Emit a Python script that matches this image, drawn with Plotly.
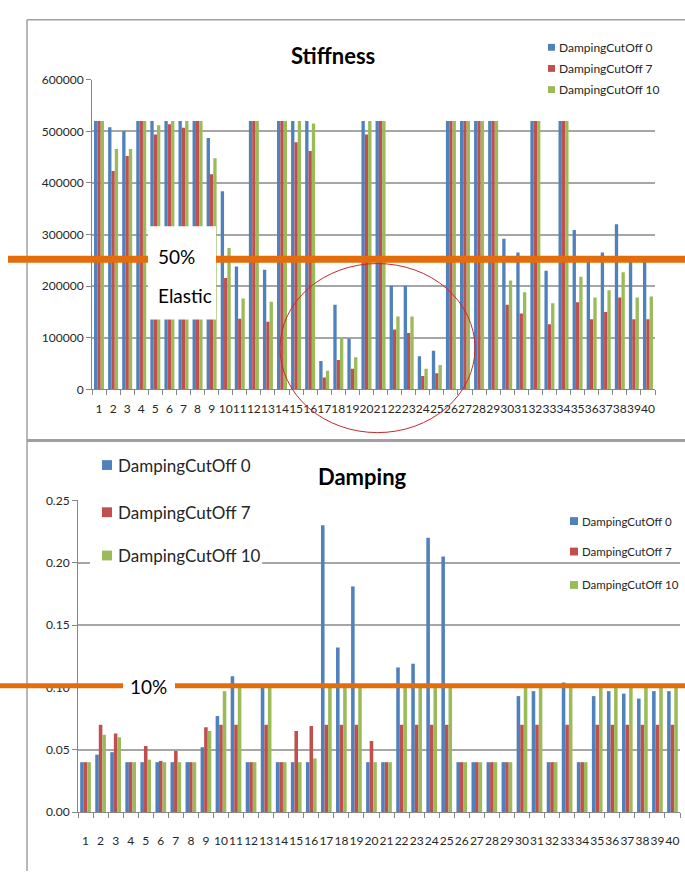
import plotly.graph_objects as go

W, H = 685, 878

categories = [str(i) for i in range(1, 41)]
series_names = ["DampingCutOff 0", "DampingCutOff 7", "DampingCutOff 10"]
colors = ["#4F81BD", "#C0504D", "#9BBB59"]

stiff_c0 = [520000, 508000, 500000, 520000, 520000, 520000, 520000, 520000, 487000, 384000,
            238000, 520000, 232000, 520000, 520000, 520000, 55000, 164000, 98000, 520000,
            520000, 201000, 201000, 64000, 75000, 520000, 520000, 520000, 520000, 292000,
            265000, 520000, 230000, 520000, 309000, 250000, 265000, 320000, 248000, 248000]
stiff_c7 = [520000, 423000, 452000, 520000, 494000, 514000, 507000, 520000, 417000, 216000,
            137000, 520000, 131000, 520000, 479000, 462000, 23000, 57000, 40000, 494000,
            520000, 116000, 109000, 26000, 31000, 520000, 520000, 520000, 520000, 164000,
            147000, 520000, 126000, 520000, 169000, 136000, 150000, 178000, 136000, 136000]
stiff_c10 = [520000, 466000, 466000, 520000, 512000, 520000, 520000, 520000, 448000, 274000,
             176000, 520000, 170000, 520000, 520000, 515000, 36000, 99000, 62000, 520000,
             520000, 141000, 141000, 40000, 47000, 520000, 520000, 520000, 520000, 211000,
             188000, 520000, 167000, 520000, 218000, 178000, 192000, 227000, 178000, 180000]

damp_c0 = [0.040, 0.046, 0.048, 0.040, 0.040, 0.040, 0.040, 0.040, 0.052, 0.077,
           0.109, 0.040, 0.100, 0.040, 0.040, 0.040, 0.230, 0.132, 0.181, 0.040,
           0.040, 0.116, 0.119, 0.220, 0.205, 0.040, 0.040, 0.040, 0.040, 0.093,
           0.097, 0.040, 0.104, 0.040, 0.093, 0.097, 0.095, 0.091, 0.097, 0.097]
damp_c7 = [0.040, 0.070, 0.063, 0.040, 0.053, 0.041, 0.049, 0.040, 0.068, 0.070,
           0.070, 0.040, 0.070, 0.040, 0.065, 0.069, 0.070, 0.070, 0.070, 0.057,
           0.040, 0.070, 0.070, 0.070, 0.070, 0.040, 0.040, 0.040, 0.040, 0.070,
           0.070, 0.040, 0.070, 0.040, 0.070, 0.070, 0.070, 0.070, 0.070, 0.070]
damp_c10 = [0.040, 0.062, 0.060, 0.040, 0.042, 0.040, 0.040, 0.040, 0.065, 0.097,
            0.100, 0.040, 0.100, 0.040, 0.040, 0.043, 0.100, 0.100, 0.100, 0.040,
            0.040, 0.100, 0.100, 0.100, 0.100, 0.040, 0.040, 0.040, 0.040, 0.100,
            0.100, 0.040, 0.100, 0.040, 0.100, 0.100, 0.100, 0.100, 0.100, 0.100]

stiff_ticks = [0, 100000, 200000, 300000, 400000, 500000, 600000]
damp_ticks = [0.0, 0.05, 0.10, 0.15, 0.20, 0.25]


def X(px):
    return px / W


def Y(py):
    return 1 - py / H


FONT = "Lato"
GRID = "#A6A6A6"
AXIS = "#868686"
ORANGE = "#E46C0A"

fig = go.Figure()

for name, vals, col in zip(series_names, [stiff_c0, stiff_c7, stiff_c10], colors):
    fig.add_trace(go.Bar(x=categories, y=vals, name=name, marker=dict(color=col, line=dict(width=0)),
                         xaxis="x", yaxis="y", showlegend=False))
for name, vals, col in zip(series_names, [damp_c0, damp_c7, damp_c10], colors):
    fig.add_trace(go.Bar(x=categories, y=vals, name=name, marker=dict(color=col, line=dict(width=0)),
                         xaxis="x2", yaxis="y2", showlegend=False))

tickfont = dict(family=FONT, size=12, color="#262626")

common_x = dict(type="category", tickson="boundaries", ticks="outside", ticklen=5,
                tickcolor=AXIS, showline=True, linecolor=AXIS, linewidth=1,
                showgrid=False, tickfont=tickfont, tickangle=0)
common_y = dict(ticks="outside", ticklen=5, tickcolor=AXIS, showline=True, linecolor=AXIS,
                linewidth=1, showgrid=True, gridcolor=GRID, gridwidth=1.5, zeroline=False,
                tickfont=tickfont)

fig.update_layout(
    width=W, height=H,
    margin=dict(l=0, r=0, t=0, b=0),
    paper_bgcolor="white", plot_bgcolor="white",
    barmode="group", bargap=0.29, bargroupgap=0,
    showlegend=False,
    xaxis=dict(domain=[X(92), X(655)], anchor="y", ticklabelstandoff=8, **common_x),
    yaxis=dict(domain=[Y(388), Y(73)], anchor="x", range=[0, 600000],
               tickvals=stiff_ticks, tickformat="d", **common_y),
    xaxis2=dict(domain=[X(78), X(680)], anchor="y2", ticklabelstandoff=18, **common_x),
    yaxis2=dict(domain=[Y(818), Y(501)], anchor="x2", range=[0, 0.25],
                tickvals=damp_ticks, tickformat=".2f", **common_y),
)

shapes = []
annotations = []

# frame lines
shapes.append(dict(type="line", xref="paper", yref="paper", x0=X(27), x1=X(27), y0=Y(12), y1=Y(878),
                   line=dict(color="#A0A0A0", width=1.5)))
shapes.append(dict(type="line", xref="paper", yref="paper", x0=X(27), x1=X(685), y0=Y(12), y1=Y(12),
                   line=dict(color="#A0A0A0", width=1.5)))
shapes.append(dict(type="line", xref="paper", yref="paper", x0=X(27), x1=X(685), y0=Y(440), y1=Y(440),
                   line=dict(color="#A0A0A0", width=3)))

# titles
annotations.append(dict(text="<b>Stiffness</b>", xref="paper", yref="paper", x=X(333), y=Y(48),
                        showarrow=False, font=dict(family=FONT, size=22, color="black"),
                        xanchor="center", yanchor="middle"))
annotations.append(dict(text="<b>Damping</b>", xref="paper", yref="paper", x=X(362), y=Y(477),
                        showarrow=False, font=dict(family=FONT, size=22, color="black"),
                        xanchor="center", yanchor="middle"))


def add_legend(sq_x, sq_size, text_x, ys, fsize):
    for name, col, yc in zip(series_names, colors, ys):
        shapes.append(dict(type="rect", xref="paper", yref="paper", layer="above",
                           x0=X(sq_x), x1=X(sq_x + sq_size), y0=Y(yc - sq_size / 2), y1=Y(yc + sq_size / 2),
                           fillcolor=col, line=dict(width=0)))
        annotations.append(dict(text=name, xref="paper", yref="paper", x=X(text_x), y=Y(yc),
                                showarrow=False, xanchor="left", yanchor="middle",
                                font=dict(family=FONT, size=fsize, color="#262626")))


# top legend
add_legend(548, 7, 557, [40, 61.5, 83], 12)
# bottom right legend
add_legend(570, 8, 580, [522, 553, 587], 11.5)
# bottom left big legend (white box)
shapes.append(dict(type="rect", xref="paper", yref="paper", layer="above",
                   x0=X(90), x1=X(262), y0=Y(450), y1=Y(572), fillcolor="white", line=dict(width=0)))
add_legend(102, 10, 116, [465, 513, 557], 17)

# top orange line + label box
shapes.append(dict(type="line", xref="paper", yref="paper", layer="above",
                   x0=X(8), x1=X(685), y0=Y(255.5), y1=Y(255.5), line=dict(color=ORANGE, width=7)))
shapes.append(dict(type="rect", xref="paper", yref="paper", layer="above",
                   x0=X(148), x1=X(216), y0=Y(222), y1=Y(317), fillcolor="white", line=dict(width=0)))
annotations.append(dict(text="50%", xref="paper", yref="paper", x=X(156), y=Y(253),
                        showarrow=False, xanchor="left", yanchor="middle",
                        font=dict(family=FONT, size=19, color="black")))
annotations.append(dict(text="Elastic", xref="paper", yref="paper", x=X(156), y=Y(292),
                        showarrow=False, xanchor="left", yanchor="middle",
                        font=dict(family=FONT, size=19, color="black")))

# bottom orange line with gap for label
shapes.append(dict(type="line", xref="paper", yref="paper", layer="above",
                   x0=X(0), x1=X(123), y0=Y(689.5), y1=Y(689.5), line=dict(color=ORANGE, width=5)))
shapes.append(dict(type="line", xref="paper", yref="paper", layer="above",
                   x0=X(175), x1=X(685), y0=Y(689.5), y1=Y(689.5), line=dict(color=ORANGE, width=5)))
shapes.append(dict(type="rect", xref="paper", yref="paper", layer="above",
                   x0=X(123), x1=X(175), y0=Y(676), y1=Y(702), fillcolor="white", line=dict(width=0)))
annotations.append(dict(text="10%", xref="paper", yref="paper", x=X(148), y=Y(690),
                        showarrow=False, xanchor="center", yanchor="middle",
                        font=dict(family=FONT, size=19, color="black")))

# red circle
shapes.append(dict(type="circle", xref="paper", yref="paper", layer="above",
                   x0=X(280), x1=X(475), y0=Y(432), y1=Y(260), line=dict(color="#C8282D", width=1)))

fig.update_layout(shapes=shapes, annotations=annotations)

fig.write_html("out.html")
